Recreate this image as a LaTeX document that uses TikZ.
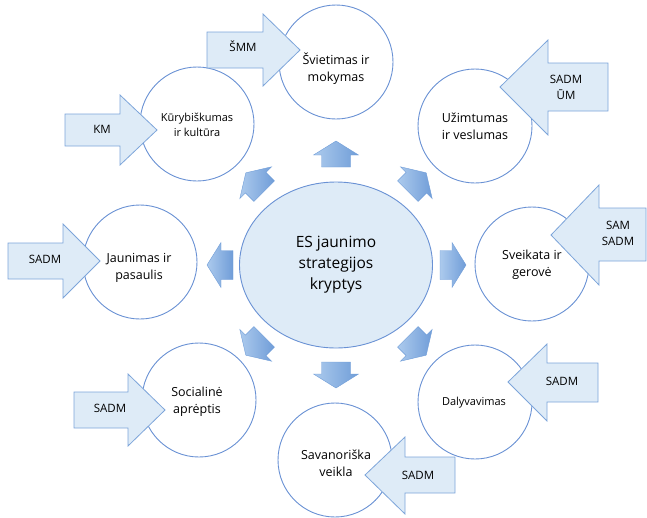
\documentclass[tikz,border=0pt]{standalone}
\usepackage{fontspec}
\setmainfont{Open Sans}
\usetikzlibrary{shapes.geometric}
\definecolor{ringblue}{RGB}{105,145,212}
\definecolor{paleblue}{RGB}{222,235,247}
\definecolor{edgeblue}{RGB}{125,165,218}
\definecolor{shadelight}{RGB}{172,202,237}
\definecolor{shadedark}{RGB}{112,157,216}

\begin{document}
\begin{tikzpicture}[x=1pt, y=-1pt,
  topic/.style = {circle, draw=ringblue, fill=white, line width=0.9pt, minimum size=114pt, inner sep=0pt},
  topictext/.style = {align=center, inner sep=0pt, font=\fontsize{12.5}{17}\selectfont},
  smalltext/.style = {align=center, inner sep=0pt, font=\fontsize{11}{14.5}\selectfont},
  blockarrow/.style = {draw=edgeblue, fill=paleblue, line width=0.8pt, line join=miter},
  blocklabel/.style = {align=center, inner sep=0pt, font=\fontsize{11.5}{16}\selectfont},
  pointer/.style = {draw=shadedark, line width=0.4pt, left color=shadelight, right color=shadedark}]
\useasboundingbox (0,0) rectangle (647,517);

\path (336,265) node[ellipse, draw=ringblue, fill=paleblue, line width=0.9pt,
  minimum width=193pt, minimum height=166pt, align=center,
  font=\fontsize{15.5}{21}\selectfont] (es) {ES jaunimo\\strategijos\\kryptys};

% small arrows round the centre
\foreach \rot/\x/\y in {0/336/154, -45/417/182, -90/453/265, -135/417/346,
                        180/336/375, 135/255/346, 90/220/265, 45/255/182}
  \path[pointer, shift={(\x,\y)}, rotate=\rot]
    (-14.5,13) -- (-14.5,1) -- (-22.5,1) -- (0,-13) -- (22.5,1) -- (14.5,1) -- (14.5,13) -- cycle;

% directions
\path (336,62) node[topic] (svietimas) {};
\path (197,124) node[topic] (kuryba) {};
\path (475,126) node[topic] (uzimtumas) {};
\path (140,262) node[topic] (pasaulis) {};
\path (532,264) node[topic] (sveikata) {};
\path (199,400) node[topic] (socialine) {};
\path (475,402) node[topic] (dalyvavimas) {};
\path (335,460) node[topic] (savanoryste) {};

% ministries
\draw[blockarrow] (207,32) -- (263,32) -- (263,14) -- (300,50) -- (263,86) -- (263,68) -- (207,68) -- cycle;
\draw[blockarrow] (65,114) -- (120,114) -- (120,95) -- (157,130) -- (120,165) -- (120,146) -- (65,146) -- cycle;
\draw[blockarrow] (8,243) -- (63,243) -- (63,224) -- (100,261) -- (63,298) -- (63,279) -- (8,279) -- cycle;
\draw[blockarrow] (74,392) -- (128,392) -- (128,374) -- (165,410) -- (128,446) -- (128,428) -- (74,428) -- cycle;
\draw[blockarrow] (608,63) -- (548,63) -- (548,40) -- (500,87) -- (548,135) -- (548,111) -- (608,111) -- cycle;
\draw[blockarrow] (646,208) -- (599,208) -- (599,185) -- (551,235) -- (599,285) -- (599,261) -- (646,261) -- cycle;
\draw[blockarrow] (598,363) -- (547,363) -- (547,344) -- (508,382) -- (547,421) -- (547,402) -- (598,402) -- cycle;
\draw[blockarrow] (455,457) -- (405,457) -- (405,437) -- (365,475) -- (405,514) -- (405,493) -- (455,493) -- cycle;

\path (243,46) node[blocklabel] (smm) {ŠMM};
\path (102,129) node[blocklabel] (km) {KM};
\path (45,259) node[blocklabel] (sadm-p) {SADM};
\path (110,408) node[blocklabel] (sadm-s) {SADM};
\path (566,87) node[blocklabel] (sadm-um) {SADM\\ŪM};
\path (618,233) node[blocklabel] (sam-sadm) {SAM\\SADM};
\path (562,381) node[blocklabel] (sadm-d) {SADM};
\path (418,475) node[blocklabel] (sadm-v) {SADM};

% names of the directions
\path (336,69) node[topictext] (svietimas-t) {Švietimas ir\\mokymas};
\path (197,125) node[smalltext] (kuryba-t) {Kūrybiškumas\\ir kultūra};
\path (475,126) node[topictext] (uzimtumas-t) {Užimtumas\\ir veslumas};
\path (139,268) node[topictext] (pasaulis-t) {Jaunimas ir\\pasaulis};
\path (532,265) node[topictext] (sveikata-t) {Sveikata ir\\gerovė};
\path (197,402) node[topictext] (socialine-t) {Socialinė\\aprėptis};
\path (474,403) node[smalltext] (dalyvavimas-t) {Dalyvavimas};
\path (336,463) node[topictext] (savanoryste-t) {Savanoriška\\veikla};
\end{tikzpicture}
\end{document}
